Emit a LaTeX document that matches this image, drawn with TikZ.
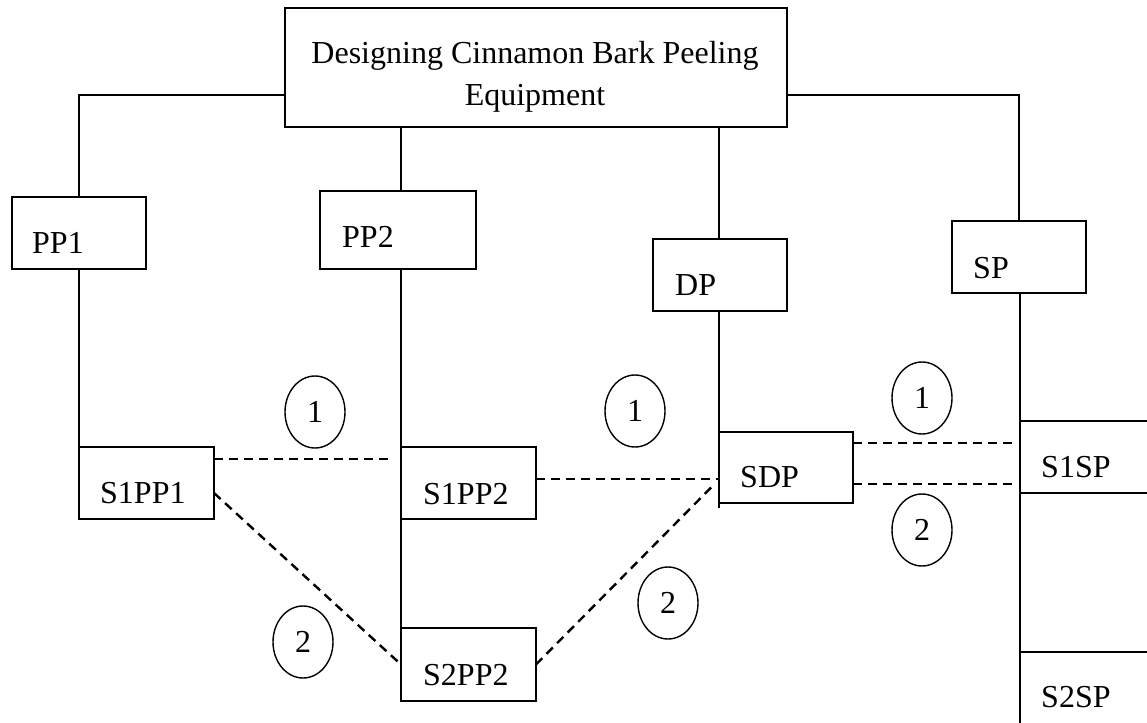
\documentclass[tikz,border=0pt]{standalone}
\usepackage{fontspec}
\setmainfont{Liberation Serif}
\usetikzlibrary{calc,shapes.geometric}
\begin{document}
\begin{tikzpicture}[x=1pt,y=-1pt,
  box/.style={draw, line width=2.4pt, rectangle, inner sep=0pt, outer sep=0pt},
  txt/.style={anchor=base west, inner sep=0pt, font=\fontsize{32}{38}\selectfont},
  ctxt/.style={anchor=base, inner sep=0pt, font=\fontsize{32}{38}\selectfont},
  link/.style={line width=2.4pt},
  dlink/.style={line width=2.4pt, dash pattern=on 9pt off 6pt},
  num/.style={draw, ellipse, line width=1.4pt, minimum width=60pt, minimum height=72pt, inner sep=0pt, font=\fontsize{32}{38}\selectfont}]
\useasboundingbox (0,0) rectangle (1147,722);
\begin{scope}
\clip (0,0) rectangle (1147,722);
% boxes
\node[box, minimum width=502pt, minimum height=119pt] (top) at (536,67.5) {};
\node[box, minimum width=134pt, minimum height=72pt] (pp1) at (79,233) {};
\node[box, minimum width=156pt, minimum height=78pt] (pp2) at (398,230) {};
\node[box, minimum width=134pt, minimum height=72pt] (dp) at (720,275) {};
\node[box, minimum width=134pt, minimum height=72pt] (sp) at (1019,257) {};
\node[box, minimum width=135pt, minimum height=72pt] (s1pp1) at (146.5,483) {};
\node[box, minimum width=135pt, minimum height=72pt] (s1pp2) at (468.5,483) {};
\node[box, minimum width=135pt, minimum height=73pt] (s2pp2) at (468.5,664.5) {};
\node[box, minimum width=134pt, minimum height=71pt] (sdp) at (786,467.5) {};
\node[box, minimum width=140pt, minimum height=72pt] (s1sp) at (1090,457) {};
\node[box, minimum width=140pt, minimum height=78pt] (s2sp) at (1090,691) {};
% texts
\node[ctxt] (ttop1) at (535,64) {Designing Cinnamon Bark Peeling};
\node[ctxt] (ttop2) at (535,106) {Equipment};
\node[txt] (tpp1) at (32,253) {PP1};
\node[txt] (tpp2) at (342,247) {PP2};
\node[txt] (tdp) at (675,295) {DP};
\node[txt] (tsp) at (973,278) {SP};
\node[txt] (ts1pp1) at (100,503) {S1PP1};
\node[txt] (ts1pp2) at (423,504) {S1PP2};
\node[txt] (ts2pp2) at (423,685) {S2PP2};
\node[txt] (tsdp) at (740,487) {SDP};
\node[txt] (ts1sp) at (1041,477) {S1SP};
\node[txt] (ts2sp) at (1041,707) {S2SP};
% tree connectors
\coordinate (yl) at (0,95);
\draw[link] (top.west |- yl) -| (pp1.north);
\draw[link] (top.east |- yl) -| (sp.north);
\draw[link] (top.south -| s1pp2.west) -- (pp2.north -| s1pp2.west);
\draw[link] (top.south -| sdp.west) -- (dp.north -| sdp.west);
\draw[link] (pp1.south) -- (pp1.south |- s1pp1.north);
\draw[link] (pp2.south -| s1pp2.west) -- (s1pp2.north west);
\draw[link] (s1pp2.south west) -- (s2pp2.north west);
\draw[link] (dp.south -| sdp.west) -- ($(sdp.south west)+(0,5)$);
\draw[link] (sp.south -| s1sp.west) -- (s1sp.north west);
\draw[link] (s1sp.south west) -- (s2sp.north west);
% dashed links
\draw[dlink] ($(s1pp1.north east)+(0,12)$) -- ($(s1pp2.north west)+(-8,12)$);
\draw[dlink] ($(s1pp1.south east)+(0,-26)$) -- (s2pp2.west);
\draw[dlink] ($(s1pp2.east)+(0,-4)$) -- ($(s1pp2.east -| sdp.west)+(0,-4)$);
\draw[dlink] (s2pp2.east) -- ($(sdp.west)+(-4,16)$);
\draw[dlink] ($(sdp.north east)+(0,11)$) -- ($(s1sp.north west)+(-7,22)$);
\draw[dlink] ($(sdp.south east)+(0,-19)$) -- ($(s1sp.south west)+(-7,-9)$);
% numbered ellipses
\node[num] (c1a) at (315,412) {1};
\node[num] (c2a) at (303,642) {2};
\node[num] (c1b) at (635,411) {1};
\node[num] (c2b) at (668,603) {2};
\node[num] (c1c) at (922,398) {1};
\node[num] (c2c) at (922,530) {2};
\end{scope}
\end{tikzpicture}
\end{document}
